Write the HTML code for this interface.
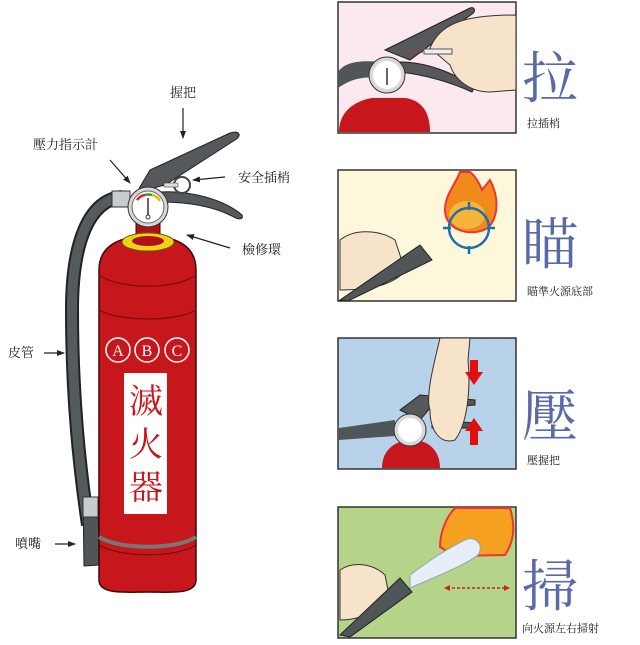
<!DOCTYPE html>
<html><head><meta charset="utf-8"><style>
body{margin:0;background:#fff;width:640px;height:640px;overflow:hidden}
text{font-family:"Liberation Serif","Noto Serif CJK SC",serif}
</style></head><body>
<svg width="640" height="640" viewBox="0 0 640 640" xmlns="http://www.w3.org/2000/svg">
<defs>
<marker id="ah" markerWidth="8" markerHeight="8" refX="7" refY="4" orient="auto" markerUnits="userSpaceOnUse"><path d="M0,1 L8,4 L0,7 Z" fill="#222"/></marker>
</defs>
<!-- labels -->
<g font-size="13" fill="#222">
<text x="170" y="97">握把</text>
<text x="33" y="149">壓力指示計</text>
<text x="238" y="182">安全插梢</text>
<text x="242" y="254">檢修環</text>
<text x="8" y="357">皮管</text>
<text x="15" y="548">噴嘴</text>
</g>
<g stroke="#222" stroke-width="1.2" marker-end="url(#ah)">
<line x1="183" y1="108" x2="183" y2="138"/>
<line x1="110" y1="160" x2="130" y2="183"/>
<line x1="225" y1="177" x2="193" y2="180"/>
<line x1="230" y1="248" x2="187" y2="235"/>
<line x1="44" y1="353" x2="64" y2="353"/>
<line x1="55" y1="544" x2="75" y2="544"/>
</g>
<!-- hose -->
<path d="M122,197 C90,200 72,240 72,310 C72,400 80,470 88,525" fill="none" stroke="#222" stroke-width="14"/>
<path d="M122,197 C90,200 72,240 72,310 C72,400 80,470 88,525" fill="none" stroke="#555a5c" stroke-width="10"/>
<path d="M83,497 L98,497 L99,565 L84,566 Z" fill="#505557" stroke="#222"/>
<rect x="83" y="497" width="15" height="20" fill="#c8ccd0" stroke="#333"/>
<!-- cylinder -->
<path d="M99,270 C99,240 130,236 148,236 C166,236 196,240 196,270 L196,580 C196,595 170,592 148,592 C126,592 99,595 99,580 Z" fill="#c8161d" stroke="#3a0a0a" stroke-width="1.5"/>
<path d="M99,275 C120,290 176,290 196,275 M99,310 C120,322 176,322 196,310" fill="none" stroke="#7a0c10" stroke-width="1.2"/>
<path d="M99,537 C120,550 176,550 196,537" fill="none" stroke="#777" stroke-width="4"/>
<path d="M99,545 C120,558 176,558 196,545" fill="none" stroke="#5a0a0a" stroke-width="1"/>
<!-- neck & ring -->
<rect x="136" y="218" width="24" height="22" fill="#b01218" stroke="#3a0a0a"/>
<ellipse cx="148" cy="242" rx="26" ry="9" fill="#f1d21a" stroke="#6a5a00"/>
<ellipse cx="148" cy="241" rx="16" ry="5" fill="#b01218"/>
<!-- pipe collar -->
<rect x="112" y="191" width="18" height="16" fill="#c8ccd0" stroke="#333"/>
<!-- handle -->
<path d="M137,192 L150,170 L230,133 C240,130 242,136 235,140 L165,185 Z" fill="#55595b" stroke="#222"/>
<path d="M160,192 C190,190 225,200 242,215 C244,220 238,220 232,216 C210,205 185,202 160,202 Z" fill="#55595b" stroke="#222"/>
<circle cx="182" cy="185" r="8" fill="none" stroke="#444" stroke-width="2"/>
<rect x="164" y="183" width="14" height="4" fill="#ddd" stroke="#444" stroke-width=".6"/>
<!-- gauge -->
<circle cx="148" cy="207" r="20" fill="#d8d8d8" stroke="#333"/>
<circle cx="148" cy="207" r="16" fill="#fff" stroke="#666"/>
<path d="M137,200 A12,12 0 0 1 145,195" stroke="#d22" stroke-width="2.5" fill="none"/>
<path d="M145,195 A12,12 0 0 1 152,195" stroke="#2a2" stroke-width="2.5" fill="none"/>
<path d="M152,195 A12,12 0 0 1 160,201" stroke="#eb0" stroke-width="2.5" fill="none"/>
<line x1="148" y1="198" x2="148" y2="216" stroke="#333" stroke-width="1.5"/>
<circle cx="148" cy="217" r="2" fill="#fff" stroke="#333"/>
<!-- ABC -->
<g fill="none" stroke="#fff" stroke-width="1.5"><circle cx="118" cy="350" r="12"/><circle cx="147" cy="350" r="12"/><circle cx="177" cy="350" r="12"/></g>
<g fill="#fff" font-family="Liberation Sans,sans-serif" font-size="16" text-anchor="middle" style="font-family:'Liberation Sans',sans-serif"><text x="118" y="356">A</text><text x="147" y="356">B</text><text x="177" y="356">C</text></g>
<rect x="124" y="373" width="43" height="141" fill="#fff"/>
<g fill="#c8161d" font-size="34" text-anchor="middle" style="font-family:'Noto Sans CJK TC',sans-serif"><text x="146" y="413">滅</text><text x="146" y="456">火</text><text x="146" y="499">器</text></g>
<!-- panel 1 -->
<rect x="338" y="2" width="178" height="131" fill="#fbe9ef" stroke="#333" stroke-width="1.5"/>
<path d="M339,132 C339,108 360,100 372,98 L405,98 C420,100 430,110 430,132 Z" fill="#c8161d"/>
<path d="M338,72 C345,62 360,60 380,62 L380,78 C360,76 350,80 338,88 Z" fill="#505557"/>
<path d="M385,50 L470,8 C475,6 476,12 472,14 L410,60 Z" fill="#55595b" stroke="#222"/>
<path d="M400,62 C430,62 455,75 475,86 L472,92 C450,82 425,75 400,72 Z" fill="#55595b" stroke="#222"/>
<circle cx="387" cy="75" r="18" fill="#d8d8d8" stroke="#333"/><circle cx="387" cy="75" r="14" fill="#fff"/>
<line x1="387" y1="68" x2="387" y2="85" stroke="#333" stroke-width="1.5"/>
<line x1="405" y1="52" x2="425" y2="52" stroke="#d22" stroke-dasharray="2,2" stroke-width="1.5"/>
<path d="M430,48 C440,25 460,15 516,15 L516,90 L490,92 C470,92 455,80 450,65 Z" fill="#f7e3c9" stroke="#333"/>
<rect x="424" y="49" width="28" height="5" fill="#eee" stroke="#555"/>
<!-- panel 2 -->
<rect x="338" y="170" width="178" height="131" fill="#fdf8dc" stroke="#333" stroke-width="1.5"/>
<path d="M460,172 C455,185 445,195 445,210 C445,230 470,238 488,228 C500,215 498,195 490,180 L482,190 C478,180 474,175 470,172 Z" fill="#f08a1c" stroke="#e33" stroke-width="2"/>
<ellipse cx="467" cy="215" rx="18" ry="14" fill="#f6b43a"/>
<circle cx="469" cy="228" r="20" fill="none" stroke="#1f6fae" stroke-width="2.5"/>
<path d="M469,202 v8 M469,246 v8 M443,228 h8 M487,228 h8" stroke="#1f6fae" stroke-width="2.5"/>
<path d="M340,240 C355,228 380,230 395,240 L405,270 C395,285 370,290 340,290 Z" fill="#f7e3c9" stroke="#333"/>
<path d="M340,300 L420,245 L432,260 L348,301 Z" fill="#505557" stroke="#222"/>
<!-- panel 3 -->
<rect x="338" y="338" width="178" height="131" fill="#b8d2ea" stroke="#333" stroke-width="1.5"/>
<path d="M339,428 L395,420 L395,436 L339,440 Z" fill="#505557"/>
<path d="M382,468 C382,450 395,440 412,440 C430,440 440,452 440,468 Z" fill="#c8161d"/>
<path d="M400,410 L420,395 L475,400 L475,405 L430,408 L420,420 Z" fill="#55595b" stroke="#222"/>
<path d="M432,420 L475,423 L475,428 L432,428 Z" fill="#55595b" stroke="#222"/>
<circle cx="410" cy="430" r="16" fill="#d8d8d8" stroke="#333"/><circle cx="410" cy="430" r="12" fill="#fff"/>
<path d="M440,338 L470,338 L468,360 C470,380 470,420 455,440 C440,445 430,430 430,410 C425,395 435,360 440,338 Z" fill="#f7e3c9" stroke="#333"/>
<path d="M470,360 L478,360 L478,372 L483,372 L474,385 L465,372 L470,372 Z" fill="#e01010"/>
<path d="M474,418 L483,431 L478,431 L478,445 L470,445 L470,431 L465,431 Z" fill="#e01010"/>
<!-- panel 4 -->
<rect x="338" y="507" width="178" height="131" fill="#b5d48a" stroke="#333" stroke-width="1.5"/>
<path d="M440,547 C440,530 448,515 455,508 L510,508 C515,525 515,540 505,555 L455,556 Z" fill="#f6a020" stroke="#e33" stroke-width="2"/>
<path d="M410,575 C430,560 445,550 465,540 C475,535 485,545 478,555 C465,565 440,575 410,588 Z" fill="#e8eef8" stroke="#8aa" stroke-width="1"/>
<path d="M340,570 C355,560 375,565 385,575 L390,600 C375,615 355,620 340,620 Z" fill="#f7e3c9" stroke="#333"/>
<path d="M340,635 L400,578 L412,592 L350,637 Z" fill="#505557" stroke="#222"/>
<line x1="447" y1="588" x2="507" y2="588" stroke="#c22" stroke-width="1.5" stroke-dasharray="3,2"/>
<path d="M444,588 l6,-3 v6 Z M510,588 l-6,-3 v6 Z" fill="#c22"/>
<!-- big chars -->
<g fill="#5a6aa8" font-size="56" style="font-family:'Noto Serif CJK SC',serif">
<text x="522" y="98">拉</text><text x="522" y="264">瞄</text><text x="522" y="436">壓</text><text x="522" y="606">掃</text>
</g>
<g fill="#222" font-size="11">
<text x="527" y="127">拉插梢</text><text x="527" y="295">瞄準火源底部</text><text x="527" y="464">壓握把</text><text x="522" y="632">向火源左右掃射</text>
</g>
</svg>
</body></html>
